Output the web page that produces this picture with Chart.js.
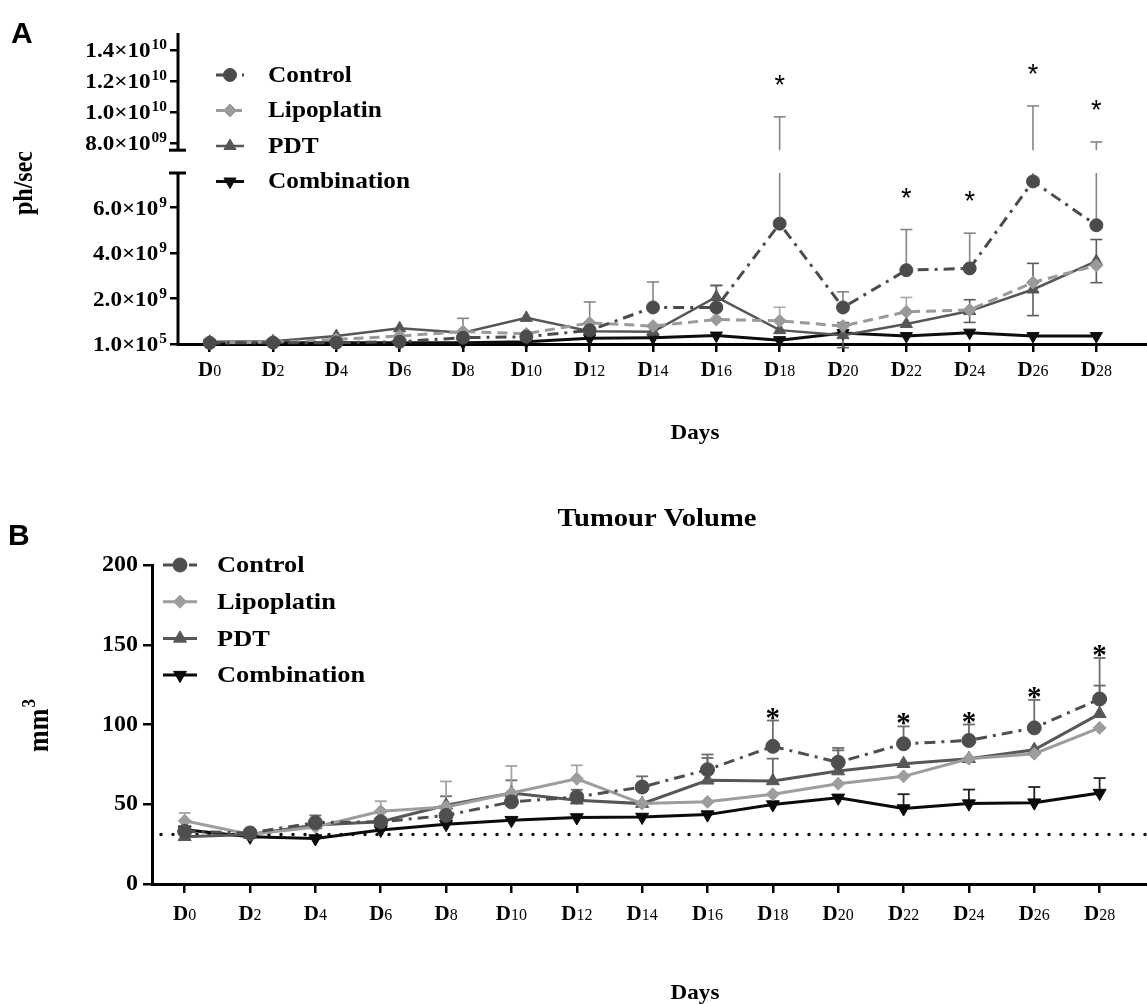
<!DOCTYPE html>
<html lang="en">
<head>
<meta charset="UTF-8">
<title>Bioluminescence and tumour volume</title>
<script src="https://cdn.jsdelivr.net/npm/chart.js"></script>
<style>
  body { margin: 0; background: #fff; }
  #page { position: relative; width: 1147px; height: 1004px; overflow: hidden; background: #fff; }
  .panel { position: absolute; left: 0; width: 1147px; }
  #panelA { top: 0; height: 470px; }
  #panelB { top: 470px; height: 534px; }
</style>
</head>
<body>
<div id="page">
  <div class="panel" id="panelA"><canvas id="photonChart"></canvas></div>
  <div class="panel" id="panelB"><canvas id="volumeChart"></canvas></div>
</div>
<script>
  // ---- data ----
  const days = [0, 2, 4, 6, 8, 10, 12, 14, 16, 18, 20, 22, 24, 26, 28];
  const sigIdx = [9, 11, 12, 13, 14]; // D18, D22, D24, D26, D28 marked with *

  // A: bioluminescence, ph/sec
  const photonControl     = [5e7, 6e7, 6e7, 1.0e8, 2.8e8, 3.2e8, 6.0e8, 1.61e9, 1.61e9, 5.3e9, 1.61e9, 3.25e9, 3.33e9, 7.16e9, 5.23e9];
  const photonLipoplatin  = [5e7, 8e7, 2.0e8, 3.5e8, 5.5e8, 4.5e8, 9.3e8, 7.9e8, 1.08e9, 1.02e9, 7.9e8, 1.42e9, 1.5e9, 2.71e9, 3.46e9];
  const photonPDT         = [1.0e8, 1.2e8, 3.5e8, 6.9e8, 5.0e8, 1.15e9, 5.6e8, 5.4e8, 2.07e9, 6.1e8, 3.9e8, 8.8e8, 1.45e9, 2.4e9, 3.65e9];
  const photonCombination = [3e7, 5e7, 5e7, 5e7, 6e7, 1.0e8, 2.5e8, 2.8e8, 3.7e8, 1.7e8, 4.8e8, 3.5e8, 5.0e8, 3.5e8, 3.5e8];
  const photonControlErr     = [0, 0, 0, 0, 8.5e8, 0, 1.25e9, 1.12e9, 9.8e8, 4.4e9, 6.9e8, 1.79e9, 1.55e9, 3.24e9, 2.85e9];
  const photonLipoplatinErr  = [0, 0, 0, 0, 0, 0, 0, 0, 0, 6.0e8, 0, 6.3e8, 0, 0, 0];
  const photonPDTErr         = [0, 0, 0, 0, 0, 0, 0, 0, 5.0e8, 0, 5.5e8, 0, 5.0e8, 1.15e9, 9.5e8];
  const photonCombinationErr = [0, 0, 0, 0, 0, 0, 0, 0, 0, 0, 0, 0, 0, 0, 0];
  const photonLowTicks   = [1e5, 2e9, 4e9, 6e9];
  const photonLowLabels  = [['1.0×10', '5'], ['2.0×10', '9'], ['4.0×10', '9'], ['6.0×10', '9']];
  const photonHighTicks  = [8e9, 1e10, 1.2e10, 1.4e10];
  const photonHighLabels = [['8.0×10', '09'], ['1.0×10', '10'], ['1.2×10', '10'], ['1.4×10', '10']];
  const photonLowMax = 7.53e9;   // top of lower axis segment
  const photonBreak = 7.55e9;    // bottom of upper axis segment
  const photonHighMin = 6.08e9;
  const photonHighMax = 1.51e10;

  // B: tumour volume, mm3
  const volumeControl     = [33, 32, 38.5, 39, 43, 51.5, 54.6, 60.8, 71.7, 86.3, 76.3, 87.9, 90, 97.9, 116];
  const volumeLipoplatin  = [39.6, 31, 35.8, 45.6, 48.3, 57, 66, 50.4, 51.5, 56.3, 62.9, 67.5, 78.5, 81.7, 97.9];
  const volumePDT         = [29.6, 31, 37, 39, 49.4, 57, 52.5, 50.4, 65, 64.6, 70.8, 75.4, 78.5, 84.2, 106.7];
  const volumeCombination = [34, 29.6, 28.5, 33.8, 37.5, 40, 41.7, 42, 43.5, 49.8, 54, 47.3, 50.4, 51, 57];
  const volumeControlErr     = [0, 2, 4.5, 0, 12, 13.5, 4.5, 6.7, 9.5, 16.2, 9, 10.9, 10, 17.5, 25.7];
  const volumeLipoplatinErr  = [5, 0, 0, 6.3, 16, 17, 8.4, 0, 0, 0, 0, 0, 0, 0, 0];
  const volumePDTErr         = [0, 0, 0, 0, 0, 0, 0, 0, 14, 14, 13, 0, 0, 0, 17.7];
  const volumeCombinationErr = [0, 0, 0, 0, 0, 0, 0, 0, 0, 0, 0, 9, 8.8, 9.8, 9.4];
  const volumeTicks = [0, 50, 100, 150, 200];
  const volumeBaseline = 31;

  const SERIF = "'Liberation Serif', 'Times New Roman', serif";
  const SANS = "'Liberation Sans', Arial, sans-serif";
  const TEXT_SX = 1.1;

  // ---- helpers ----
  function makeSeries(name, values, errs, twoSided, color, errColor, dash, pointStyle, rotation, radius, width, axis) {
    return {
      label: name,
      data: days.map((d, i) => ({ x: d, y: values[i] })),
      errors: errs,
      twoSided: twoSided,
      errColor: errColor,
      borderColor: color,
      backgroundColor: color,
      borderWidth: width,
      borderDash: dash,
      pointStyle: pointStyle,
      pointRotation: rotation,
      pointRadius: radius,
      pointBackgroundColor: color,
      pointBorderColor: color,
      pointBorderWidth: 1,
      tension: 0,
      clip: false,
      yAxisID: axis
    };
  }

  function line(ctx, x1, y1, x2, y2) {
    ctx.beginPath(); ctx.moveTo(x1, y1); ctx.lineTo(x2, y2); ctx.stroke();
  }

  function drawText(ctx, text, x, y, font, align, baseline, sx) {
    ctx.save();
    ctx.font = font; ctx.fillStyle = '#000';
    ctx.textAlign = align; ctx.textBaseline = baseline;
    ctx.translate(x, y); ctx.scale(sx || 1, 1);
    ctx.fillText(text, 0, 0);
    ctx.restore();
  }

  function drawRotated(ctx, text, sup, x, y, size) {
    ctx.save();
    ctx.translate(x, y); ctx.rotate(-Math.PI / 2); ctx.scale(1, TEXT_SX);
    ctx.fillStyle = '#000'; ctx.textBaseline = 'middle';
    ctx.font = 'bold ' + size + 'px ' + SERIF;
    const w = ctx.measureText(text).width;
    let sw = 0;
    if (sup) { ctx.font = 'bold ' + Math.round(size * 0.65) + 'px ' + SERIF; sw = ctx.measureText(sup).width; }
    const x0 = -(w + sw) / 2;
    ctx.font = 'bold ' + size + 'px ' + SERIF; ctx.textAlign = 'left';
    ctx.fillText(text, x0, 0);
    if (sup) {
      ctx.font = 'bold ' + Math.round(size * 0.65) + 'px ' + SERIF;
      ctx.fillText(sup, x0 + w + 1, -size * 0.38);
    }
    ctx.restore();
  }

  function drawSci(ctx, base, exp, xRight, yMid) {
    ctx.save();
    ctx.fillStyle = '#000'; ctx.textAlign = 'left'; ctx.textBaseline = 'alphabetic';
    ctx.font = 'bold 21px ' + SERIF; const bw = ctx.measureText(base).width;
    ctx.font = 'bold 14px ' + SERIF; const ew = ctx.measureText(exp).width;
    ctx.translate(xRight, yMid + 7); ctx.scale(TEXT_SX, 1);
    const x0 = -(bw + ew + 1);
    ctx.font = 'bold 21px ' + SERIF; ctx.fillText(base, x0, 0);
    ctx.font = 'bold 14px ' + SERIF; ctx.fillText(exp, x0 + bw + 1, -8);
    ctx.restore();
  }

  function drawDayLabels(chart, below) {
    const ctx = chart.ctx, xs = chart.scales.x;
    const y = chart.chartArea.bottom + below;
    ctx.save();
    ctx.fillStyle = '#000'; ctx.textAlign = 'left'; ctx.textBaseline = 'alphabetic';
    days.forEach(d => {
      const px = xs.getPixelForValue(d);
      ctx.font = 'bold 21px ' + SERIF; const wD = ctx.measureText('D').width;
      ctx.font = '16px ' + SERIF; const wN = ctx.measureText(String(d)).width;
      const left = px - (wD + wN) / 2;
      ctx.font = 'bold 21px ' + SERIF; ctx.fillText('D', left, y);
      ctx.font = '16px ' + SERIF; ctx.fillText(String(d), left + wD, y);
    });
    ctx.restore();
  }

  function drawLegend(chart, top, step, lineFrom, lineTo, textX, size) {
    const ctx = chart.ctx;
    chart.data.datasets.forEach((ds, i) => {
      const y = top + i * step;
      ctx.save();
      ctx.strokeStyle = ds.borderColor; ctx.lineWidth = ds.borderWidth;
      ctx.setLineDash(ds.borderDash || []);
      line(ctx, lineFrom, y, lineTo, y);
      ctx.setLineDash([]);
      ctx.fillStyle = ds.pointBackgroundColor; ctx.strokeStyle = ds.pointBorderColor; ctx.lineWidth = 1;
      Chart.helpers.drawPoint(ctx, { pointStyle: ds.pointStyle, rotation: ds.pointRotation, radius: ds.pointRadius, borderWidth: 1 }, (lineFrom + lineTo) / 2, y);
      ctx.restore();
      drawText(ctx, ds.label, textX, y + 1, 'bold ' + size + 'px ' + SERIF, 'left', 'middle', TEXT_SX);
    });
  }

  // ---- panel A ----
  function photonY(chart, v) {
    const lo = chart.scales.yLow, hi = chart.scales.yHigh;
    return v <= photonLowMax ? lo.getPixelForValue(v) : hi.getPixelForValue(v);
  }

  function photonStem(ctx, chart, px, from, to) {
    const lo = chart.scales.yLow, hi = chart.scales.yHigh;
    if (Math.max(from, to) <= photonLowMax) {
      line(ctx, px, photonY(chart, from), px, photonY(chart, to));
      return;
    }
    line(ctx, px, lo.getPixelForValue(from), px, lo.top);
    line(ctx, px, hi.getPixelForValue(photonBreak), px, hi.getPixelForValue(to));
  }

  const photonDecor = {
    id: 'photonDecor',
    beforeDatasetsDraw(chart) {
      const ctx = chart.ctx, xs = chart.scales.x, lo = chart.scales.yLow, hi = chart.scales.yHigh;
      const ax = chart.chartArea.left;
      ctx.save();
      ctx.strokeStyle = '#000'; ctx.lineWidth = 3;
      const breakY = hi.getPixelForValue(photonBreak);
      line(ctx, ax, hi.top, ax, breakY);
      line(ctx, ax - 9, breakY, ax + 8, breakY);
      line(ctx, ax, lo.top, ax, lo.bottom + 1.5);
      line(ctx, ax - 9, lo.top, ax + 8, lo.top);
      ctx.restore();

      chart.data.datasets.forEach(ds => {
        ctx.save();
        ctx.strokeStyle = ds.errColor; ctx.lineWidth = 1.6; ctx.setLineDash([]);
        ds.errors.forEach((e, i) => {
          if (!e) return;
          const px = xs.getPixelForValue(days[i]);
          const v = ds.data[i].y;
          photonStem(ctx, chart, px, v, v + e);
          const ty = photonY(chart, v + e);
          line(ctx, px - 6, ty, px + 6, ty);
          if (ds.twoSided) {
            photonStem(ctx, chart, px, v - e, v);
            const by = photonY(chart, v - e);
            line(ctx, px - 6, by, px + 6, by);
          }
        });
        ctx.restore();
      });
    },
    afterDatasetsDraw(chart) {
      const xs = chart.scales.x;
      sigIdx.forEach(i => {
        const top = photonY(chart, photonControl[i] + photonControlErr[i]);
        drawText(chart.ctx, '*', xs.getPixelForValue(days[i]), top - 38 + 15, '27px ' + SANS, 'center', 'alphabetic', 1);
      });
    },
    afterDraw(chart) {
      const ctx = chart.ctx, lo = chart.scales.yLow, hi = chart.scales.yHigh;
      const labelRight = chart.chartArea.left - 11;
      photonLowTicks.forEach((v, i) => drawSci(ctx, photonLowLabels[i][0], photonLowLabels[i][1], labelRight, lo.getPixelForValue(v)));
      photonHighTicks.forEach((v, i) => drawSci(ctx, photonHighLabels[i][0], photonHighLabels[i][1], labelRight, hi.getPixelForValue(v)));
      drawDayLabels(chart, 32);
      drawLegend(chart, 75, 35.5, 216, 244, 268, 23);
      drawText(ctx, 'A', 11, 43, 'bold 30px ' + SANS, 'left', 'alphabetic', 1);
      drawRotated(ctx, 'ph/sec', '', 25, 183, 24);
      drawText(ctx, 'Days', 695, 434, 'bold 21px ' + SERIF, 'center', 'middle', TEXT_SX);
    }
  };

  const photonGrid = { drawOnChartArea: false, drawTicks: true, tickLength: 8, color: '#000', lineWidth: 2.5 };

  new Chart(document.getElementById('photonChart'), {
    type: 'line',
    data: {
      datasets: [
        makeSeries('Control', photonControl, photonControlErr, false, '#4b4b4b', '#858585', [11, 6, 3, 6], 'circle', 0, 6.5, 3, 'yLow'),
        makeSeries('Lipoplatin', photonLipoplatin, photonLipoplatinErr, false, '#9a9a9a', '#a8a8a8', [10, 6], 'rectRot', 0, 6.5, 3, 'yLow'),
        makeSeries('PDT', photonPDT, photonPDTErr, true, '#565656', '#5c5c5c', [], 'triangle', 0, 7, 2.5, 'yLow'),
        makeSeries('Combination', photonCombination, photonCombinationErr, false, '#0d0d0d', '#333333', [], 'triangle', 180, 7, 3, 'yLow')
      ]
    },
    options: {
      responsive: true,
      maintainAspectRatio: false,
      animation: false,
      layout: { autoPadding: false, padding: { top: 33, left: 0, right: 0, bottom: 0 } },
      plugins: { legend: { display: false }, tooltip: { enabled: false } },
      scales: {
        x: {
          type: 'linear', min: -1, max: 29.6,
          afterBuildTicks: s => { s.ticks = days.map(v => ({ value: v })); },
          afterFit: s => { s.height = 126; },
          ticks: { display: false },
          grid: { drawOnChartArea: false, drawTicks: true, tickLength: 8, color: '#000', lineWidth: 2.5 },
          border: { display: true, color: '#000', width: 3 }
        },
        yLow: {
          type: 'linear', position: 'left', stack: 'photons', stackWeight: 171, weight: 0,
          min: 0, max: photonLowMax,
          afterBuildTicks: s => { s.ticks = photonLowTicks.map(v => ({ value: v })); },
          afterFit: s => { s.width = 178; },
          ticks: { display: false },
          grid: photonGrid,
          border: { display: false }
        },
        yHigh: {
          type: 'linear', position: 'left', stack: 'photons', stackWeight: 140, weight: 1,
          min: photonHighMin, max: photonHighMax,
          afterBuildTicks: s => { s.ticks = photonHighTicks.map(v => ({ value: v })); },
          afterFit: s => { s.width = 178; },
          ticks: { display: false },
          grid: photonGrid,
          border: { display: false }
        }
      }
    },
    plugins: [photonDecor]
  });

  // ---- panel B ----
  const volumeDecor = {
    id: 'volumeDecor',
    beforeDatasetsDraw(chart) {
      const ctx = chart.ctx, xs = chart.scales.x, ys = chart.scales.y;
      const yb = ys.getPixelForValue(volumeBaseline);
      ctx.save();
      ctx.strokeStyle = '#111'; ctx.lineWidth = 3.5; ctx.lineCap = 'round'; ctx.setLineDash([0, 12]);
      line(ctx, chart.chartArea.left + 9, yb, chart.width, yb);
      ctx.restore();

      chart.data.datasets.forEach(ds => {
        ctx.save();
        ctx.strokeStyle = ds.errColor; ctx.lineWidth = 1.8; ctx.setLineDash([]);
        ds.errors.forEach((e, i) => {
          if (!e) return;
          const px = xs.getPixelForValue(days[i]);
          const v = ds.data[i].y;
          const ty = ys.getPixelForValue(v + e);
          line(ctx, px, ys.getPixelForValue(v), px, ty);
          line(ctx, px - 6, ty, px + 6, ty);
        });
        ctx.restore();
      });
    },
    afterDatasetsDraw(chart) {
      const xs = chart.scales.x, ys = chart.scales.y;
      sigIdx.forEach(i => {
        const top = ys.getPixelForValue(volumeControl[i] + volumeControlErr[i]);
        drawText(chart.ctx, '*', xs.getPixelForValue(days[i]), top - 7 + 13, 'bold 29px ' + SERIF, 'center', 'alphabetic', 1);
      });
    },
    afterDraw(chart) {
      const ctx = chart.ctx;
      drawDayLabels(chart, 36);
      drawLegend(chart, 95, 36.7, 163, 197, 217, 24);
      drawText(ctx, 'B', 8, 75, 'bold 30px ' + SANS, 'left', 'alphabetic', 1);
      drawText(ctx, 'Tumour Volume', 657, 49, 'bold 26px ' + SERIF, 'center', 'middle', TEXT_SX);
      drawRotated(ctx, 'mm', '3', 41, 256, 26);
      drawText(ctx, 'Days', 695, 524, 'bold 21px ' + SERIF, 'center', 'middle', TEXT_SX);
    }
  };

  new Chart(document.getElementById('volumeChart'), {
    type: 'line',
    data: {
      datasets: [
        makeSeries('Control', volumeControl, volumeControlErr, false, '#4e4e4e', '#6e6e6e', [11, 6, 3, 6], 'circle', 0, 7, 3, 'y'),
        makeSeries('Lipoplatin', volumeLipoplatin, volumeLipoplatinErr, false, '#9d9d9d', '#a5a5a5', [], 'rectRot', 0, 6.5, 3, 'y'),
        makeSeries('PDT', volumePDT, volumePDTErr, false, '#575757', '#6a6a6a', [], 'triangle', 0, 7.5, 3, 'y'),
        makeSeries('Combination', volumeCombination, volumeCombinationErr, false, '#0a0a0a', '#222222', [], 'triangle', 180, 7.5, 3, 'y')
      ]
    },
    options: {
      responsive: true,
      maintainAspectRatio: false,
      animation: false,
      layout: { autoPadding: false, padding: { top: 95, left: 0, right: 0, bottom: 0 } },
      plugins: { legend: { display: false }, tooltip: { enabled: false } },
      scales: {
        x: {
          type: 'linear', min: -1, max: 29.45,
          afterBuildTicks: s => { s.ticks = days.map(v => ({ value: v })); },
          afterFit: s => { s.height = 120; },
          ticks: { display: false },
          grid: { drawOnChartArea: false, drawTicks: true, tickLength: 9, color: '#000', lineWidth: 2.5 },
          border: { display: true, color: '#000', width: 3 }
        },
        y: {
          type: 'linear', position: 'left', min: 0, max: 200,
          afterBuildTicks: s => { s.ticks = volumeTicks.map(v => ({ value: v })); },
          afterFit: s => { s.width = 152; },
          ticks: { color: '#000', padding: 5, font: { family: SERIF, size: 24, weight: 'bold' } },
          grid: { drawOnChartArea: false, drawTicks: true, tickLength: 9, color: '#000', lineWidth: 2.5 },
          border: { display: true, color: '#000', width: 3 }
        }
      }
    },
    plugins: [volumeDecor]
  });
</script>
</body>
</html>
